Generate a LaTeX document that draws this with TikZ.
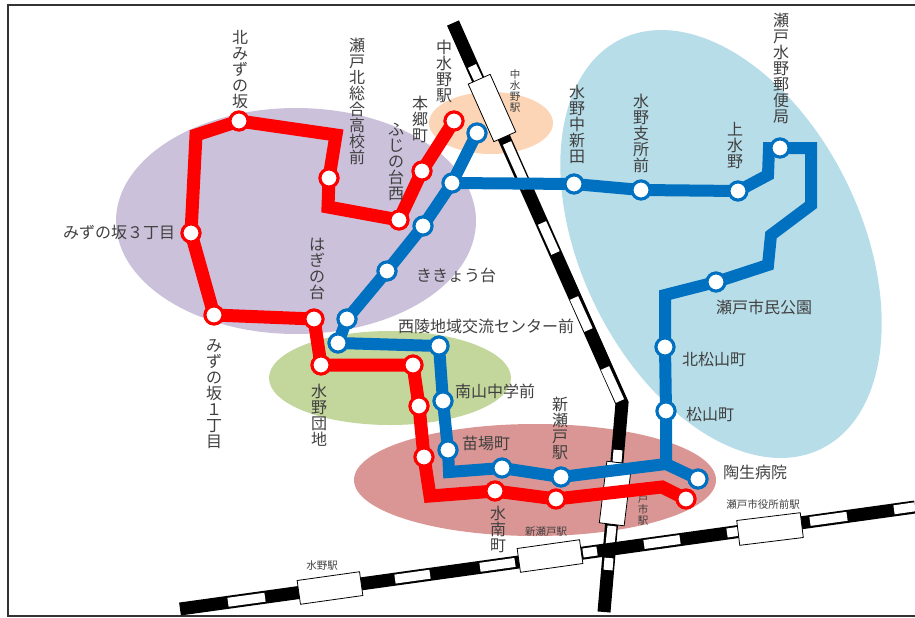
\documentclass[tikz,border=0pt]{standalone}
\usepackage{fontspec}
\setmainfont{Noto Sans CJK JP}
\pgfdeclarelayer{bg}
\pgfsetlayers{bg,main}
\definecolor{ellblue}{HTML}{B7DDE8}
\definecolor{ellpurple}{HTML}{CCC1DA}
\definecolor{ellorange}{HTML}{FBD5B5}
\definecolor{ellgreen}{HTML}{C3D69B}
\definecolor{ellred}{HTML}{D99694}
\definecolor{lineblue}{HTML}{0070C0}
\definecolor{linered}{HTML}{FF0000}
\definecolor{txt}{HTML}{404040}
\tikzset{
  redstop/.style={circle,draw=linered,fill=white,line width=3pt,minimum size=18pt,inner sep=0pt},
  bluestop/.style={circle,draw=lineblue,fill=white,line width=3pt,minimum size=18pt,inner sep=0pt},
  redline/.style={draw=linered,line width=13pt,line join=miter},
  blueline/.style={draw=lineblue,line width=12pt,line join=miter},
  railblack/.style={draw=black,line width=13pt,line join=miter},
  railwhite/.style={draw=white,line width=9pt},
  stationbox/.style={draw=black,fill=white,line width=0.8pt,inner sep=0pt},
  lab/.style={text=txt,font=\fontsize{16}{16}\selectfont,inner sep=0pt,align=center},
  small/.style={text=txt,font=\fontsize{10.5}{10.7}\selectfont,inner sep=0pt,align=center}
}
\begin{document}
\begin{tikzpicture}[x=1pt,y=-1pt]
\useasboundingbox (0,0) rectangle (915,618);
% stops
\node[redstop] (r1) at (191,233) {};
\node[redstop] (r2) at (239,121) {};
\node[redstop] (r3) at (329,178) {};
\node[redstop] (r4) at (399,220) {};
\node[redstop] (r5) at (422,171) {};
\node[redstop] (r6) at (454,121) {};
\node[redstop] (r7) at (214,315) {};
\node[redstop] (r8) at (314,319) {};
\node[redstop] (r9) at (321,365) {};
\node[redstop] (r10) at (413,365) {};
\node[redstop] (r11) at (419,406) {};
\node[redstop] (r12) at (424,457) {};
\node[redstop] (r13) at (495,491) {};
\node[redstop] (r14) at (556,499) {};
\node[redstop] (r15) at (686,499) {};
\node[bluestop] (b1) at (477,133) {};
\node[bluestop] (b2) at (452,183) {};
\node[bluestop] (b3) at (423,226) {};
\node[bluestop] (b4) at (387,271) {};
\node[bluestop] (b5) at (347,319) {};
\node[bluestop] (b6) at (338,343) {};
\node[bluestop] (b7) at (439,346) {};
\node[bluestop] (b8) at (443,401) {};
\node[bluestop] (b9) at (448,450) {};
\node[bluestop] (b10) at (502,468) {};
\node[bluestop] (b11) at (561,477) {};
\node[bluestop] (b12) at (698,479) {};
\node[bluestop] (b13) at (666,411) {};
\node[bluestop] (b14) at (665,347) {};
\node[bluestop] (b15) at (716,282) {};
\node[bluestop] (b16) at (780,148) {};
\node[bluestop] (b17) at (738,191) {};
\node[bluestop] (b18) at (641,190) {};
\node[bluestop] (b19) at (574,184) {};
% bends
\coordinate (rc1) at (196,135);
\coordinate (rc2) at (336,135);
\coordinate (rc3) at (328,207);
\coordinate (rc4) at (430,496);
\coordinate (rc5) at (662,487);
\coordinate (bc1) at (449,472);
\coordinate (bc2) at (666,464);
\coordinate (bc3) at (665,295);
\coordinate (bc4) at (768,265);
\coordinate (bc5) at (771,235);
\coordinate (bc6) at (811,205);
\coordinate (bc7) at (811,148);
\coordinate (bc8) at (769,148);
\coordinate (bc9) at (768,175);
% rail ends
\coordinate (ra) at (453,23);
\coordinate (rb) at (622,403);
\coordinate (rc) at (604,612);
\coordinate (rd) at (180,609);
\coordinate (re) at (915,507);
% station boxes
\node[stationbox,minimum width=63pt,minimum height=24pt,rotate=8] (s1) at (330,588) {};
\node[stationbox,minimum width=63pt,minimum height=24pt,rotate=8] (s2) at (550,556) {};
\node[stationbox,minimum width=64pt,minimum height=25pt,rotate=7] (s3) at (770,529) {};
\node[stationbox,minimum width=63pt,minimum height=24pt,rotate=-66] (s4) at (492,108) {};
\begin{pgfonlayer}{bg}
  \draw[black!80,line width=1.5pt] (915,5) -- (8,5) -- (8,616) -- (915,616);
  \fill[ellblue,rotate around={26:(721,244)}] (721,244) ellipse [x radius=140pt,y radius=228pt];
  \fill[ellpurple] (296,221) ellipse [x radius=180pt,y radius=113pt];
  \fill[ellorange] (491,123) ellipse [x radius=62pt,y radius=31pt];
  \fill[ellgreen] (390,378) ellipse [x radius=121pt,y radius=47pt];
  \fill[ellred] (535,480) ellipse [x radius=181pt,y radius=56pt];
  % rail 1
  \draw[railblack] (ra) -- (rb) -- (rc);
  \foreach \xa/\ya/\xb/\yb in {472/66/481/85,507/143/527/188,542/223/555.5/253,574/298/588.5/330,605/368/620/401,618/450/617/462,612/526/610/545,609/558/608/570}
    \draw[railwhite] (\xa,\ya) -- (\xb,\yb);
  % rail 2
  \draw[railblack] (rd) -- (re);
  \foreach \xa/\ya/\xb/\yb in {228/602.3/265/597.2,395/579.1/430/574.2,480/567.3/515/562.4,583/553/597/551,644/544.5/680/539.5,727/533/738/531.4,810/521.4/847/516.3,894/509.8/915/506.8}
    \draw[railwhite] (\xa,\ya) -- (\xb,\yb);
\end{pgfonlayer}
\node[stationbox,minimum width=25pt,minimum height=62pt,rotate=-7] (s5) at (615.5,493.5) {};
\node[small,anchor=center] (l21) at (643,510) {戸\\市\\駅};
% lines above the station box, below the stops
\draw[blueline] (b1.center) -- (b2.center) -- (b3.center) -- (b4.center) -- (b5.center) -- (b6.center) -- (b7.center) -- (b8.center) -- (b9.center) -- (bc1) -- (b10.center) -- (b11.center) -- (bc2) -- (b12.center);
\draw[blueline] (bc2) -- (b13.center) -- (b14.center) -- (bc3) -- (b15.center) -- (bc4) -- (bc5) -- (bc6) -- (bc7) -- (b16.center) -- (bc8) -- (bc9) -- (b17.center) -- (b18.center) -- (b19.center) -- (b2.center);
\draw[redline] (r2.center) -- (rc1) -- (r1.center) -- (r7.center) -- (r8.center) -- (r9.center) -- (r10.center) -- (r11.center) -- (r12.center) -- (rc4) -- (r13.center) -- (r14.center) -- (rc5) -- (r15.center);
\draw[redline] (r2.center) -- (rc2) -- (r3.center) -- (rc3) -- (r4.center) -- (r5.center) -- (r6.center);
% redraw stops above the lines
\foreach \n in {r1,r2,r3,r4,r5,r6,r7,r8,r9,r10,r11,r12,r13,r14,r15}
  \filldraw[fill=white,draw=linered,line width=3pt] (\n.center) circle (9pt);
\foreach \n in {b1,b2,b3,b4,b5,b6,b7,b8,b9,b10,b11,b12,b13,b14,b15,b16,b17,b18,b19}
  \filldraw[fill=white,draw=lineblue,line width=3pt] (\n.center) circle (9pt);
% labels
\node[lab] (l1) at (240,70) {北\\み\\ず\\の\\坂};
\node[lab] (l2) at (357,101.5) {瀬\\戸\\北\\総\\合\\高\\校\\前};
\node[lab] (l3) at (444,71) {中\\水\\野\\駅};
\node[lab] (l4) at (420,119.5) {本\\郷\\町};
\node[lab] (l5) at (396,161.5) {ふ\\じ\\の\\台\\西};
\node[lab] (l6) at (577,124.5) {水\\野\\中\\新\\田};
\node[lab] (l7) at (641,133) {水\\野\\支\\所\\前};
\node[lab] (l8) at (735,146) {上\\水\\野};
\node[lab] (l9) at (781,68) {瀬\\戸\\水\\野\\郵\\便\\局};
\node[lab] (l10) at (764,307) {瀬戸市民公園};
\node[lab] (l11) at (714,359) {北松山町};
\node[lab] (l12) at (710,414) {松山町};
\node[lab] (l13) at (755,472) {陶生病院};
\node[lab] (l14) at (560,428.5) {新\\瀬\\戸\\駅};
\node[lab] (l15) at (498,529) {水\\南\\町};
\node[lab] (l16) at (486,443) {苗場町};
\node[lab] (l17) at (495,391) {南山中学前};
\node[lab] (l18) at (486,326) {西陵地域交流センター前};
\node[lab] (l19) at (456,275) {ききょう台};
\node[lab] (l20) at (119,232) {みずの坂３丁目};
\node[lab] (l22) at (214,394) {み\\ず\\の\\坂\\１\\丁\\目};
\node[lab] (l23) at (319,415) {水\\野\\団\\地};
\node[lab] (l24) at (317,268.5) {は\\ぎ\\の\\台};
\node[small] (l25) at (322,566) {水野駅};
\node[small] (l26) at (546,532) {新瀬戸駅};
\node[small] (l27) at (763,504) {瀬戸市役所前駅};
\node[small] (l28) at (515,91) {中\\水\\野\\駅};
\end{tikzpicture}
\end{document}
